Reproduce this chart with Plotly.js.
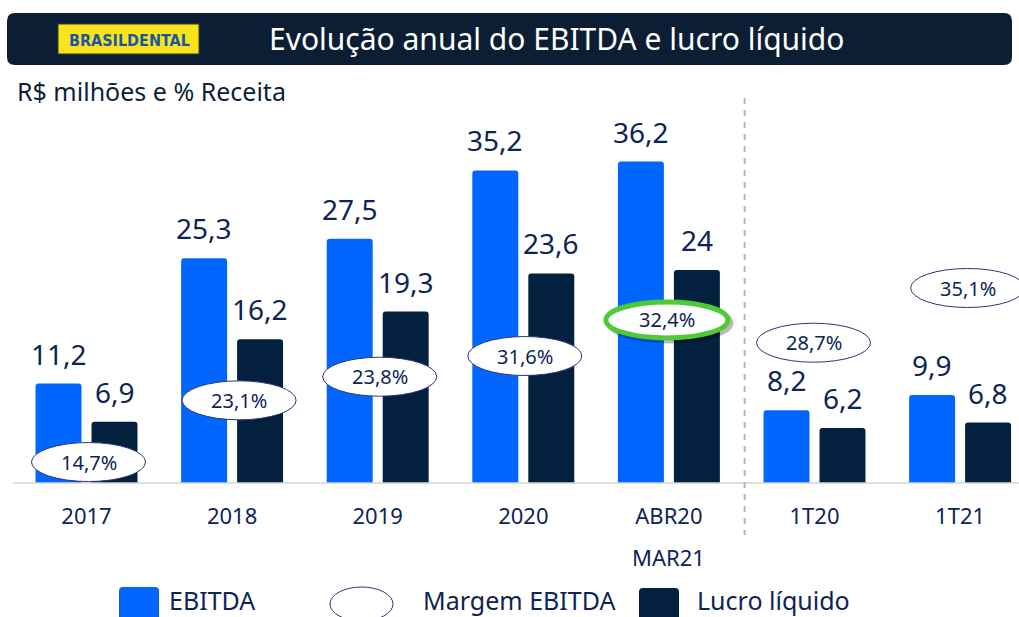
<!DOCTYPE html>
<html>
<head>
<meta charset="utf-8">
<script src="https://cdn.plot.ly/plotly-3.0.1.min.js"></script>
<style>
  html, body { margin: 0; padding: 0; background: #ffffff; }
  #chart { width: 1019px; height: 617px; }
</style>
</head>
<body>
<div id="chart"></div>
<script>
// ---------- data ----------
const categories = ['2017', '2018', '2019', '2020', 'ABR20', '1T20', '1T21'];
const tickSecondLine = ['', '', '', '', 'MAR21', '', ''];
const ebitda = [11.2, 25.3, 27.5, 35.2, 36.2, 8.2, 9.9];
const lucroLiquido = [6.9, 16.2, 19.3, 23.6, 24, 6.2, 6.8];
const margemEbitda = [14.7, 23.1, 23.8, 31.6, 32.4, 28.7, 35.1];
const highlightIndex = 4;

// ---------- layout helpers ----------
const W = 1019, H = 617, PT = 100, PB = 483;
const PH = PB - PT;
const px = x => x / W;
const py = y => (PB - y) / PH;

// hand placement of the margin bubbles (y in axis units, x shift in px)
const bubbleY = [2.36, 9.31, 11.97, 14.3, 18.36, 15.8, 21.96];
const bubbleDX = [2, 7, 2, 1.5, -2, -1, 7.5];

const NAVY = '#0d2556';
const BLUE = '#0066ff';
const DARK = '#03203f';
const FONT = 'Noto Sans, Open Sans, sans-serif';

const fmt = v => String(v).replace('.', ',');
const fmtPct = v => v.toFixed(1).replace('.', ',') + '%';

function roundRect(x0, y0, x1, y1, r) {
  const X = v => px(v).toFixed(5), Y = v => py(v).toFixed(5);
  return 'M' + X(x0 + r) + ',' + Y(y0) +
    ' L' + X(x1 - r) + ',' + Y(y0) +
    ' Q' + X(x1) + ',' + Y(y0) + ' ' + X(x1) + ',' + Y(y0 + r) +
    ' L' + X(x1) + ',' + Y(y1 - r) +
    ' Q' + X(x1) + ',' + Y(y1) + ' ' + X(x1 - r) + ',' + Y(y1) +
    ' L' + X(x0 + r) + ',' + Y(y1) +
    ' Q' + X(x0) + ',' + Y(y1) + ' ' + X(x0) + ',' + Y(y1 - r) +
    ' L' + X(x0) + ',' + Y(y0 + r) +
    ' Q' + X(x0) + ',' + Y(y0) + ' ' + X(x0 + r) + ',' + Y(y0) + ' Z';
}

// ---------- traces ----------
const traces = [
  {
    type: 'bar', name: 'EBITDA', x: categories, y: ebitda,
    marker: { color: BLUE, cornerradius: 3 }, hoverinfo: 'skip'
  },
  {
    type: 'bar', name: 'Lucro líquido', x: categories, y: lucroLiquido,
    marker: { color: DARK, cornerradius: 3 }, hoverinfo: 'skip'
  }
];

// ---------- shapes ----------
const shapes = [];
// header bar
shapes.push({ type: 'path', xref: 'paper', yref: 'paper', path: roundRect(7, 13, 1012, 65, 8),
  fillcolor: '#0b1e34', line: { width: 0 } });
// logo box
shapes.push({ type: 'rect', xref: 'paper', yref: 'paper', x0: px(58), x1: px(199), y0: py(24), y1: py(54),
  fillcolor: '#f7e41b', line: { color: '#3a3a20', width: 1 } });
// baseline
shapes.push({ type: 'line', xref: 'paper', yref: 'paper', x0: px(13), x1: 1, y0: 0, y1: 0,
  line: { color: '#d4d4d4', width: 1.5 } });
// separator
shapes.push({ type: 'line', xref: 'x', yref: 'paper', x0: 4.52, x1: 4.52, y0: py(98), y1: py(535),
  line: { color: '#b5b5b5', width: 2, dash: '6px,6px' } });

// margin bubbles
margemEbitda.forEach((m, i) => {
  const hl = i === highlightIndex;
  const hw = hl ? 61 : 57, hh = hl ? 18 : 19.5;
  if (hl) {
    shapes.push({
      type: 'circle', xref: 'x', yref: 'y', xsizemode: 'pixel', ysizemode: 'pixel',
      xanchor: i, yanchor: bubbleY[i],
      x0: bubbleDX[i] - hw + 3, x1: bubbleDX[i] + hw + 3, y0: -hh - 3, y1: hh - 3,
      fillcolor: 'rgba(0,0,0,0)', line: { color: 'rgba(0,0,0,0.28)', width: 5 }
    });
  }
  shapes.push({
    type: 'circle', xref: 'x', yref: 'y', xsizemode: 'pixel', ysizemode: 'pixel',
    xanchor: i, yanchor: bubbleY[i],
    x0: bubbleDX[i] - hw, x1: bubbleDX[i] + hw, y0: -hh, y1: hh,
    fillcolor: '#ffffff',
    line: hl ? { color: '#4fc935', width: 5 } : { color: '#2e3480', width: 1 }
  });
});

// legend marks
shapes.push({ type: 'path', xref: 'paper', yref: 'paper', path: roundRect(119, 587, 159, 630, 4),
  fillcolor: BLUE, line: { width: 0 } });
shapes.push({ type: 'circle', xref: 'paper', yref: 'paper', x0: px(330), x1: px(393), y0: py(587), y1: py(621),
  fillcolor: '#ffffff', line: { color: '#2e3480', width: 1 } });
shapes.push({ type: 'path', xref: 'paper', yref: 'paper', path: roundRect(639, 588, 679, 630, 4),
  fillcolor: DARK, line: { width: 0 } });

// ---------- annotations ----------
const annotations = [];
annotations.push({ xref: 'paper', yref: 'paper', x: px(556), y: py(39), xanchor: 'center', yanchor: 'middle',
  text: 'Evolução anual do EBITDA e lucro líquido', showarrow: false,
  font: { family: FONT, size: 30, color: '#ffffff' } });
annotations.push({ xref: 'paper', yref: 'paper', x: px(129), y: py(40), xanchor: 'center', yanchor: 'middle',
  text: '<b>BRASILDENTAL</b>', showarrow: false,
  font: { family: 'DejaVu Sans Condensed, DejaVu Sans, sans-serif', size: 16, color: '#1e55a3' } });
annotations.push({ xref: 'paper', yref: 'paper', x: px(15), y: py(91), xanchor: 'left', yanchor: 'middle',
  text: 'R$ milhões e % Receita', showarrow: false,
  font: { family: FONT, size: 25, color: '#0d1f3a' } });

// value labels
ebitda.forEach((v, i) => annotations.push({ xref: 'x', yref: 'y', x: i, y: v, xshift: -28, yshift: 9,
  xanchor: 'center', yanchor: 'bottom', text: fmt(v), showarrow: false,
  font: { family: FONT, size: 28, color: NAVY } }));
lucroLiquido.forEach((v, i) => annotations.push({ xref: 'x', yref: 'y', x: i, y: v, xshift: 28, yshift: 9,
  xanchor: 'center', yanchor: 'bottom', text: fmt(v), showarrow: false,
  font: { family: FONT, size: 28, color: NAVY } }));
// margin labels
margemEbitda.forEach((m, i) => annotations.push({ xref: 'x', yref: 'y', x: i, y: bubbleY[i], xshift: bubbleDX[i],
  xanchor: 'center', yanchor: 'middle', text: fmtPct(m), showarrow: false,
  font: { family: FONT, size: 20, color: NAVY } }));
// second line of tick labels
tickSecondLine.forEach((t, i) => { if (t) annotations.push({ xref: 'x', yref: 'paper', x: i, y: py(557),
  xanchor: 'center', yanchor: 'middle', text: t, showarrow: false,
  font: { family: FONT, size: 22, color: NAVY } }); });

// legend texts
[['EBITDA', 167], ['Margem EBITDA', 421], ['Lucro líquido', 695]].forEach(([t, x]) =>
  annotations.push({ xref: 'paper', yref: 'paper', x: px(x), y: py(600), xanchor: 'left', yanchor: 'middle',
    text: t, showarrow: false, font: { family: FONT, size: 25, color: NAVY } }));

const layout = {
  width: W, height: H,
  margin: { l: 0, r: 0, t: PT, b: H - PB, pad: 0 },
  paper_bgcolor: '#ffffff', plot_bgcolor: '#ffffff',
  showlegend: false,
  barmode: 'group', bargap: 0.231, bargroupgap: 0.179,
  xaxis: {
    type: 'category', range: [-86.5 / 145.6, (W - 86.5) / 145.6],
    showgrid: false, zeroline: false, showline: false, ticks: '',
    tickfont: { family: FONT, size: 22, color: NAVY }, ticklabelstandoff: 18, fixedrange: true
  },
  yaxis: {
    range: [0, PH / 8.88], visible: false, showgrid: false, zeroline: false, fixedrange: true
  },
  shapes: shapes,
  annotations: annotations
};

Plotly.newPlot('chart', traces, layout, { displayModeBar: false, staticPlot: true });
</script>
</body>
</html>
